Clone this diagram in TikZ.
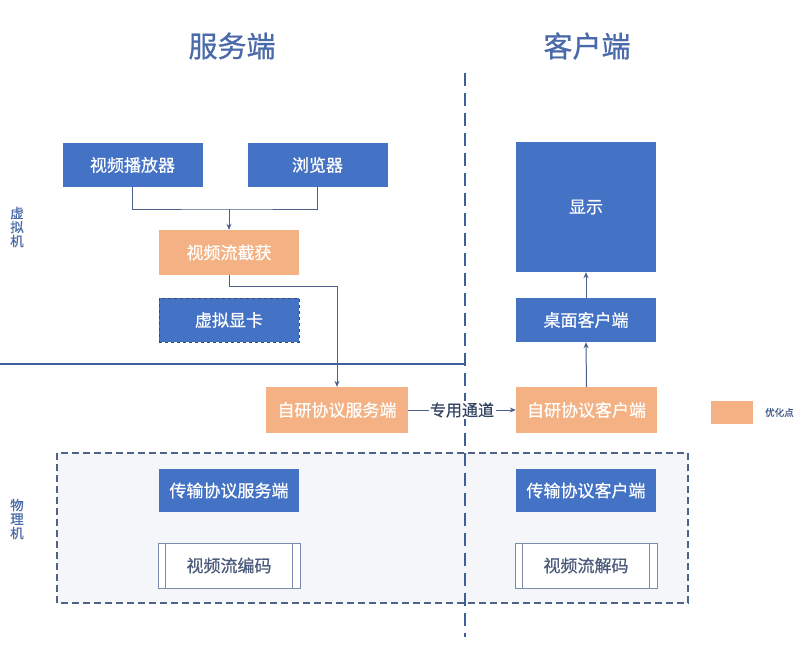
\documentclass[tikz,border=0pt]{standalone}
\usepackage{fontspec}
\setmainfont{Noto Sans CJK SC}
\newfontfamily\semifont{Noto Sans CJK SC}[FakeBold=0.6]
\newfontfamily\titlefont{Noto Sans CJK SC}[FakeBold=0.8]
\usetikzlibrary{arrows.meta}
\definecolor{boxblue}{HTML}{4472C4}
\definecolor{boxorange}{HTML}{F4B183}
\definecolor{linec}{HTML}{4A5F8C}
\definecolor{sepc}{HTML}{3F5E9C}
\definecolor{titlec}{HTML}{4A6AAA}
\definecolor{grpfill}{HTML}{F4F6FA}
\definecolor{grpline}{HTML}{4F6288}
\definecolor{proctext}{HTML}{4A5A7A}
\definecolor{procline}{HTML}{7A8AAB}
\begin{document}
\begin{tikzpicture}[x=1pt,y=-1pt,
  bbox/.style={draw=none,fill=boxblue,text=white,minimum width=140pt,minimum height=44pt,inner sep=0pt,font=\semifont\fontsize{17}{20}\selectfont},
  obox/.style={bbox,fill=boxorange},
  proc/.style={draw=procline,line width=0.8pt,fill=white,text=proctext,minimum width=142pt,minimum height=45pt,inner sep=0pt,font=\semifont\fontsize{17}{20}\selectfont},
  conn/.style={draw=linec,line width=1pt},
  arr/.style={conn,-{Stealth[length=6pt,width=5pt]}},
  vlabel/.style={text=titlec,font=\semifont\fontsize{13.5}{15}\selectfont,align=center,inner sep=0pt},
  title/.style={text=titlec,font=\titlefont\fontsize{29}{32}\selectfont,inner sep=0pt}
]
\useasboundingbox (0,0) rectangle (798,672);
\fill[white] (0,0) rectangle (798,672);

% physical machine group
\draw[draw=grpline,fill=grpfill,line width=1.4pt,dash pattern=on 7pt off 4pt] (57,453) rectangle (688,603);

% separators
\draw[sepc,line width=1.3pt] (0,364) -- (465,364);
\draw[sepc,line width=2pt,dash pattern=on 13pt off 7pt] (465,73) -- (465,637);

% titles
\node[title] (t1) at (232,46) {服务端};
\node[title] (t2) at (587,46) {客户端};

% side labels
\node[vlabel] (vm) at (17,227) {虚\\[-1pt]拟\\[-1pt]机};
\node[vlabel] (pm) at (17,519) {物\\[-1pt]理\\[-1pt]机};

% boxes
\node[bbox] (player) at (132.5,165) {视频播放器};
\node[bbox] (browser) at (317.5,165) {浏览器};
\node[obox,minimum height=45pt] (capture) at (229,252.5) {视频流截获};
\node[bbox,draw=sepc!80!black,line width=1pt,dashed] (vgpu) at (229,320) {虚拟显卡};
\node[obox,minimum width=142pt,minimum height=46pt] (server) at (337,410) {自研协议服务端};
\node[obox,minimum width=141pt,minimum height=46pt] (client) at (586.5,410) {自研协议客户端};
\node[bbox] (desktop) at (586,320) {桌面客户端};
\node[bbox,minimum height=130pt] (display) at (586,207) {显示};
\node[bbox,minimum height=43pt] (tserver) at (229,490.5) {传输协议服务端};
\node[bbox,minimum height=43pt] (tclient) at (586,490.5) {传输协议客户端};
\node[proc] (encode) at (229,565.5) {视频流编码};
\node[proc] (decode) at (586,565.5) {视频流解码};
\foreach \n in {encode,decode}{
  \draw[procline,line width=0.8pt] ([xshift=8pt]\n.north west) -- ([xshift=8pt]\n.south west);
  \draw[procline,line width=0.8pt] ([xshift=-8pt]\n.north east) -- ([xshift=-8pt]\n.south east);
}

% legend
\node[fill=boxorange,minimum width=42pt,minimum height=23pt,inner sep=0pt] (legend) at (732,412.5) {};
\node[text=titlec!80!black,font=\semifont\fontsize{9.5}{11}\selectfont,anchor=west,inner sep=0pt] (legendtxt) at (765,412.5) {优化点};

% connectors
\coordinate (j1) at (229,209);
\draw[conn] (player.south) |- (j1) -| (browser.south);
\draw[arr] (j1) -- (capture.north);
\draw[arr] (capture.south) -- ++(0,11) -| (server.north);
\draw[arr] (server.east) -- node[fill=white,text=linec!70!black,inner sep=1.5pt,font=\semifont\fontsize{16}{18}\selectfont] (chan) {专用通道} (client.west);
\draw[arr] (client.north) -- (desktop.south);
\draw[arr] (desktop.north) -- (display.south);
\end{tikzpicture}
\end{document}
